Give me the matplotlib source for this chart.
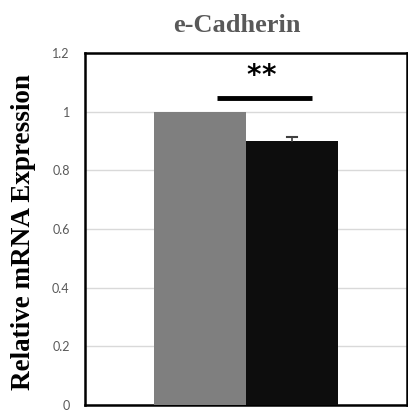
import matplotlib
matplotlib.use("Agg")
import matplotlib.pyplot as plt

title = "e-Cadherin"
ylabel = "Relative mRNA Expression"
groups = ["Control", "Treated"]
values = [1.0, 0.9]
errors = [0.0, 0.015]
colors = ["#7f7f7f", "#0d0d0d"]
yticks = [0, 0.2, 0.4, 0.6, 0.8, 1.0, 1.2]
ytick_labels = ["0", "0.2", "0.4", "0.6", "0.8", "1", "1.2"]
sig_text = "**"
sig_level = 1.048

fig = plt.figure(figsize=(4.08, 4.13), dpi=100)
ax = fig.add_axes([85 / 408, 1 - 405 / 413, 322 / 408, 352 / 413])

x = [-0.5, 0.5]
ax.bar(x, values, width=1.0, color=colors, zorder=3)
# upper error whisker only; the lower half is hidden inside the bar
ax.plot([x[1] - 0.05, x[1] + 0.05], [values[1] + errors[1]] * 2,
        color="#404040", linewidth=1.5, zorder=4)
ax.plot([x[1], x[1]], [values[1], values[1] + errors[1]],
        color="#404040", linewidth=1.2, zorder=4)

ax.set_xlim(-1.75, 1.75)
ax.set_ylim(0, 1.2)
ax.set_yticks(yticks)
ax.set_yticklabels(ytick_labels, color="#595959", fontsize=9, family="Lato")
ax.set_xticks([])
ax.tick_params(axis="y", length=0, pad=11)
ax.yaxis.grid(True, color="#d9d9d9", linewidth=1.0, zorder=0)
ax.set_axisbelow(True)
for s in ax.spines.values():
    s.set_linewidth(1.8)
    s.set_color("black")

# significance bracket with spaced asterisks
ax.plot([-0.315, 0.717], [sig_level, sig_level], color="black", linewidth=3.5,
        solid_capstyle="butt", zorder=5)
for i, ch in enumerate(sig_text):
    ax.text(0.087 + 0.165 * i, 1.122, ch, ha="center", va="center", fontsize=20,
            fontweight="bold", family="DejaVu Sans", color="black")

fig.text(237 / 408, 1 - 25 / 413, title, ha="center", va="center",
         fontsize=19, fontweight="bold", family="Liberation Serif", color="#595959")
fig.text(24 / 408, 1 - 232 / 413, ylabel, ha="center", va="center", rotation=90,
         fontsize=19.5, fontweight="bold", family="Liberation Serif", color="black")

fig.savefig("out.png", dpi=100)
